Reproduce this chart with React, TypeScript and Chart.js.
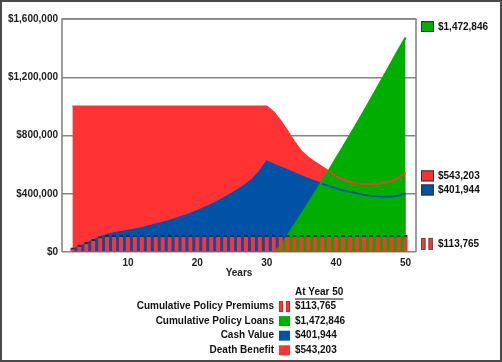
import React, { useEffect, useRef } from "react";
import { Chart, registerables } from "chart.js";

Chart.register(...registerables);

// ---------- data ----------
const years = [
  2, 3, 4, 5, 6, 7, 8, 9, 10, 11, 12, 13, 14, 15, 16, 17, 18, 19, 20, 21, 22, 23, 24, 25, 26,
  27, 28, 29, 30, 31, 32, 33, 34, 35, 36, 37, 38, 39, 40, 41, 42, 43, 44, 45, 46, 47, 48, 49, 50,
];

const premiums = [
  28000, 47000, 66000, 87000, 106000, 113765, 113765, 113765, 113765, 113765, 113765, 113765,
  113765, 113765, 113765, 113765, 113765, 113765, 113765, 113765, 113765, 113765, 113765, 113765,
  113765, 113765, 113765, 113765, 113765, 113765, 113765, 113765, 113765, 113765, 113765, 113765,
  113765, 113765, 113765, 113765, 113765, 113765, 113765, 113765, 113765, 113765, 113765, 113765,
  113765,
];

const loans = [
  0, 0, 0, 0, 0, 0, 0, 0, 0, 0, 0, 0, 0, 0, 0, 0, 0, 0, 0, 0, 0, 0, 0, 0, 0, 0, 0, 0, 0, 0,
  40000, 112000, 185000, 259000, 334000, 410000, 487000, 564000, 643000, 722000, 803000, 884000,
  966000, 1050000, 1134000, 1219000, 1305000, 1390000, 1472846,
];

const cashValue = [
  15000, 36000, 58000, 80000, 102000, 120000, 130000, 138000, 147000, 156000, 166000, 177000,
  189000, 202000, 216000, 231000, 247000, 264000, 283000, 303000, 325000, 349000, 375000, 403000,
  433000, 466000, 502000, 556000, 622000, 602000, 582000, 562000, 542000, 522000, 503000, 485000,
  468000, 452000, 437000, 424000, 413000, 403000, 392000, 386000, 382000, 380000, 381000, 388000,
  401944,
];

const deathBenefit = [
  1000000, 1000000, 1000000, 1000000, 1000000, 1000000, 1000000, 1000000, 1000000, 1000000,
  1000000, 1000000, 1000000, 1000000, 1000000, 1000000, 1000000, 1000000, 1000000, 1000000,
  1000000, 1000000, 1000000, 1000000, 1000000, 1000000, 1000000, 1000000, 1000000, 960000,
  900000, 830000, 755000, 690000, 648000, 615000, 583000, 553000, 522000, 497000, 480000,
  471000, 467000, 466000, 468000, 475000, 488000, 510000, 543203,
];

const xTickValues = [10, 20, 30, 40, 50];
const yTickValues = [0, 400000, 800000, 1200000, 1600000];

const seriesNames = [
  "Cumulative Policy Premiums",
  "Cumulative Policy Loans",
  "Cash Value",
  "Death Benefit",
];
const tableHeader = "At Year 50";
const xTitle = "Years";

// ---------- styles ----------
const RED = "#FF3333";
const BLUE = "#0052A6";
const GREEN = "#00AE00";
const DARK = "#2a2a2a";
const GRID = "#858585";
const FONT = "'Liberation Sans', Arial, Helvetica, sans-serif";

const money = (v: number) => "$" + Math.round(v).toLocaleString("en-US");
const last = (a: number[]) => a[a.length - 1];
const pts = (vals: number[]) => years.map((x, i) => ({ x, y: vals[i] }));

function drawBarsIcon(ctx: CanvasRenderingContext2D, x: number, cy: number, h: number, w: number, gap: number, stroke: string) {
  for (let k = 0; k < 2; k++) {
    const bx = x + k * (w + gap);
    ctx.fillStyle = RED;
    ctx.fillRect(bx, cy - h / 2, w, h);
    ctx.strokeStyle = stroke;
    ctx.lineWidth = 1;
    ctx.strokeRect(bx + 0.5, cy - h / 2 + 0.5, w - 1, h - 1);
  }
}

function drawBox(ctx: CanvasRenderingContext2D, x: number, cy: number, w: number, h: number, color: string, stroke: string | null) {
  ctx.fillStyle = color;
  ctx.fillRect(x, cy - h / 2, w, h);
  if (stroke) {
    ctx.strokeStyle = stroke;
    ctx.lineWidth = 1;
    ctx.strokeRect(x + 0.5, cy - h / 2 + 0.5, w - 1, h - 1);
  }
}

const decorPlugin = {
  id: "decor",
  beforeDatasetsDraw(chart: any) {
    const { ctx, chartArea: a } = chart;
    ctx.save();
    ctx.strokeStyle = GRID;
    ctx.lineWidth = 1.6;
    ctx.beginPath();
    ctx.moveTo(a.left, a.bottom);
    ctx.lineTo(a.left, a.top);
    ctx.lineTo(a.right, a.top);
    ctx.lineTo(a.right, a.bottom);
    ctx.stroke();
    ctx.restore();
  },
  afterDraw(chart: any) {
    const { ctx, chartArea: a } = chart;
    const ys = chart.scales.y;
    ctx.save();

    // outer frame
    ctx.strokeStyle = "#4a4a4a";
    ctx.lineWidth = 2;
    ctx.strokeRect(1, 1, chart.width - 2, chart.height - 2);

    // right-side value labels
    ctx.font = `bold 10px ${FONT}`;
    ctx.textBaseline = "middle";
    ctx.textAlign = "left";
    const bx = a.right + 5;
    const tx = a.right + 22;
    const side = [
      { v: last(loans), color: GREEN, dy: -11, kind: "box" },
      { v: last(deathBenefit), color: RED, dy: 3, kind: "box" },
      { v: last(cashValue), color: BLUE, dy: -3.5, kind: "box" },
      { v: last(premiums), color: RED, dy: 8.5, kind: "bars" },
    ];
    for (const s of side) {
      const cy = ys.getPixelForValue(s.v) + s.dy;
      if (s.kind === "box") drawBox(ctx, bx, cy, 13, 11, s.color, "#333");
      else drawBarsIcon(ctx, bx, cy, 12, 4.5, 3, "#555");
      ctx.fillStyle = "#111";
      ctx.fillText(money(s.v), tx, cy + 0.5);
    }

    // bottom table
    const labelRight = 274;
    const swX = 279;
    const valX = 295;
    const headY = 292.5;
    ctx.fillStyle = "#111";
    ctx.textAlign = "left";
    ctx.fillText(tableHeader, valX, headY);
    const hw = ctx.measureText(tableHeader).width;
    ctx.strokeStyle = "#111";
    ctx.lineWidth = 1;
    ctx.beginPath();
    ctx.moveTo(valX, headY + 6.5);
    ctx.lineTo(valX + hw, headY + 6.5);
    ctx.stroke();

    const rows = [
      { name: seriesNames[0], v: last(premiums), color: RED, kind: "bars" },
      { name: seriesNames[1], v: last(loans), color: GREEN, kind: "box" },
      { name: seriesNames[2], v: last(cashValue), color: BLUE, kind: "box" },
      { name: seriesNames[3], v: last(deathBenefit), color: RED, kind: "box" },
    ];
    rows.forEach((r, i) => {
      const cy = 306.5 + i * 14.6;
      ctx.fillStyle = "#111";
      ctx.textAlign = "right";
      ctx.fillText(r.name, labelRight, cy);
      if (r.kind === "bars") drawBarsIcon(ctx, swX, cy, 11, 4, 3, "#e02020");
      else drawBox(ctx, swX, cy, 11, 10, r.color, null);
      ctx.fillStyle = "#111";
      ctx.textAlign = "left";
      ctx.fillText(money(r.v), valX, cy);
    });
    ctx.restore();
  },
};

export default function App() {
  const ref = useRef<HTMLCanvasElement | null>(null);

  useEffect(() => {
    document.body.style.margin = "0";
    Chart.defaults.font.family = FONT;
    const canvas = ref.current!;
    const chart = new Chart(canvas, {
      type: "bar",
      data: {
        datasets: [
          {
            type: "bar",
            label: seriesNames[0],
            data: pts(premiums),
            backgroundColor: RED,
            borderColor: DARK,
            borderWidth: { top: 2, left: 0, right: 0, bottom: 0 },
            borderSkipped: false,
            barThickness: 4,
            order: 0,
          } as any,
          {
            type: "line",
            label: seriesNames[1],
            data: pts(loans),
            borderColor: GREEN,
            backgroundColor: GREEN,
            borderWidth: 2,
            pointRadius: 0,
            fill: "origin",
            tension: 0,
            order: 1,
          },
          {
            type: "line",
            label: seriesNames[2],
            data: pts(cashValue),
            borderColor: BLUE,
            backgroundColor: BLUE,
            borderWidth: 1.8,
            pointRadius: 0,
            fill: "origin",
            tension: 0,
            order: 2,
          },
          {
            type: "line",
            label: seriesNames[3],
            data: pts(deathBenefit),
            borderColor: RED,
            backgroundColor: RED,
            borderWidth: 1.8,
            pointRadius: 0,
            fill: "origin",
            tension: 0,
            order: 3,
          },
        ],
      },
      options: {
        responsive: false,
        animation: false,
        events: [],
        layout: { padding: { top: 19, right: 86, bottom: 83, left: 0 } },
        plugins: {
          legend: { display: false },
          tooltip: { enabled: false },
          filler: { drawTime: "beforeDatasetsDraw" },
        } as any,
        scales: {
          x: {
            type: "linear",
            min: 0.5,
            max: 51.5,
            offset: false,
            grid: { display: false, drawTicks: false },
            border: { display: false },
            afterBuildTicks: (s: any) => {
              s.ticks = xTickValues.map((v) => ({ value: v }));
            },
            afterFit: (s: any) => {
              s.height = 27;
            },
            ticks: {
              padding: 5,
              color: "#222",
              font: { size: 10, weight: "bold" },
              callback: (v: any) => String(v),
            },
            title: {
              display: true,
              text: xTitle,
              color: "#222",
              font: { size: 10, weight: "bold" },
              padding: { top: 0, bottom: 0 },
            },
          },
          y: {
            type: "linear",
            min: 0,
            max: 1600000,
            grid: { color: GRID, lineWidth: 1.5, drawTicks: false },
            border: { display: false },
            afterBuildTicks: (s: any) => {
              s.ticks = yTickValues.map((v) => ({ value: v }));
            },
            afterFit: (s: any) => {
              s.width = 62;
            },
            ticks: {
              padding: 4,
              color: "#222",
              font: { size: 10, weight: "bold" },
              callback: (v: any) => money(Number(v)),
            },
          },
        },
      } as any,
      plugins: [decorPlugin],
    });
    return () => chart.destroy();
  }, []);

  return (
    <div style={{ width: 502, height: 362, position: "relative", background: "#fff" }}>
      <canvas ref={ref} width={502} height={362} style={{ display: "block", width: 502, height: 362 }} />
    </div>
  );
}
